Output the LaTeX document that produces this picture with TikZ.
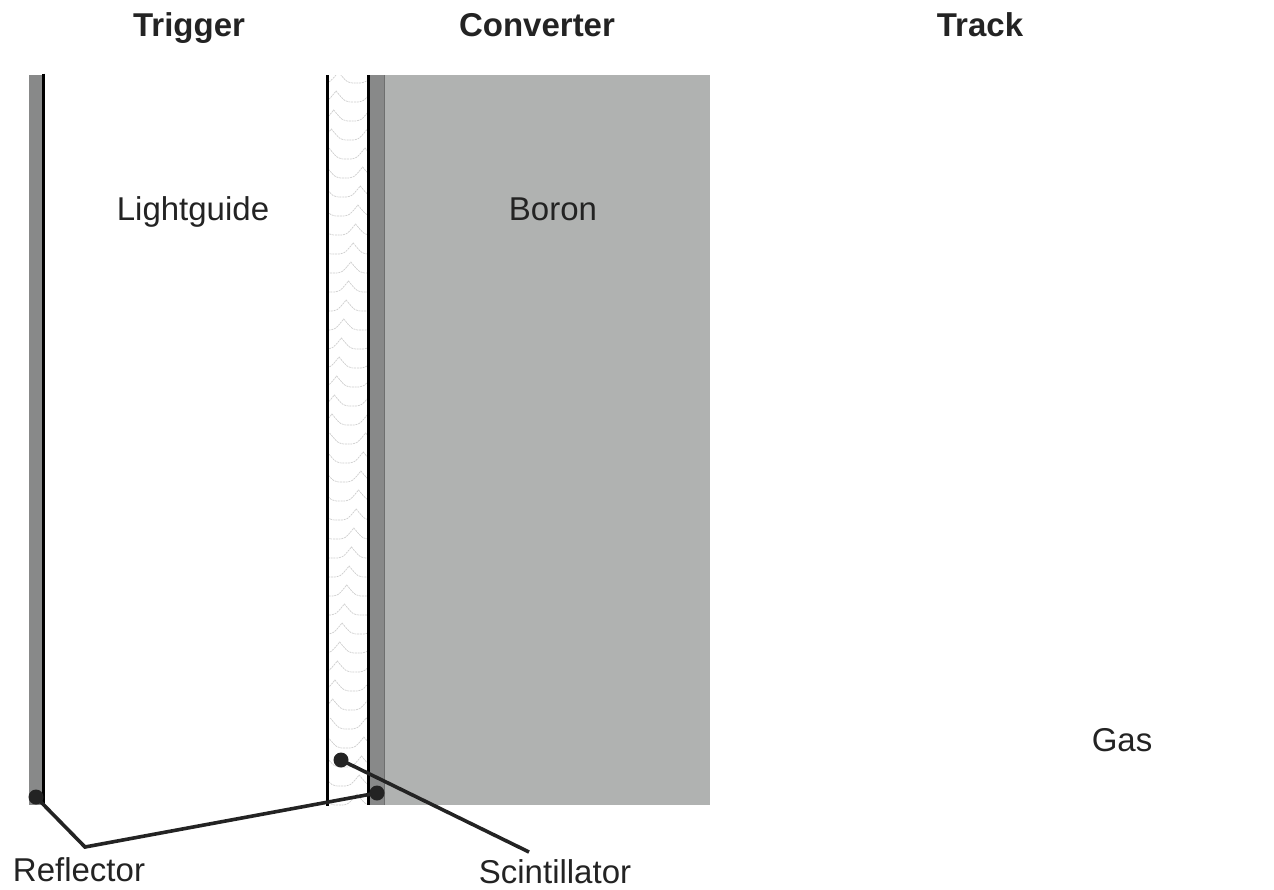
\documentclass[tikz,border=0pt]{standalone}
\usepackage{fontspec}
\setmainfont{Liberation Sans}
\definecolor{boron}{RGB}{176,178,177}
\definecolor{refl}{RGB}{136,137,137}
\definecolor{reflEdge}{RGB}{110,111,111}
\definecolor{ink}{RGB}{35,35,35}
\definecolor{scin}{RGB}{205,205,205}
\tikzset{
  x=1pt,y=-1pt,
  head/.style={font=\bfseries\fontsize{33}{36}\selectfont,text=ink,inner sep=0pt,anchor=base},
  lab/.style={font=\fontsize{33}{36}\selectfont,text=ink,inner sep=0pt,anchor=base},
  wall/.style={black,line width=3.8pt},
  lead/.style={ink,line width=3.6pt,line join=miter},
  dot/.style={circle,fill=ink,minimum size=15pt,inner sep=0pt},
  wave/.style={scin,line width=0.7pt,dash pattern=on 2pt off 0.8pt}
}
\begin{document}
\begin{tikzpicture}
\useasboundingbox (0,0) rectangle (1274,889);
\fill[boron] (385,75) rectangle (710,805);
\fill[refl] (29,75) rectangle (43,805);
\fill[refl] (369,75) rectangle (385,805);
\draw[reflEdge,line width=1.2pt] (384.4,75) -- (384.4,805);
\begin{scope}
\clip (329,75) rectangle (367,805);
\foreach \y in {72,91,...,800} {
  \pgfmathsetmacro{\pk}{331+mod(395-(\y-140)/290*36,36)}
  \pgfmathsetmacro{\pa}{\pk-36}
  \pgfmathsetmacro{\pb}{\pk+36}
  \draw[wave] (\pa,\y) .. controls (\pa+9,\y+11) .. (\pa+18,\y+11)
     .. controls (\pa+27,\y+11) .. (\pk,\y)
     .. controls (\pk+9,\y+11) .. (\pk+18,\y+11)
     .. controls (\pk+27,\y+11) .. (\pb,\y);
}
\end{scope}
\draw[wall] (43.5,73.5) -- (43.5,805);
\draw[wall] (327.5,75) -- (327.5,806);
\draw[wall] (368.5,75) -- (368.5,805);
\node[head] (trigger) at (189,36) {Trigger};
\node[head] (converter) at (537,36) {Converter};
\node[head] (track) at (980,36) {Track};
\node[lab] (lightguide) at (193,220) {Lightguide};
\node[lab] (boronlab) at (553,220) {Boron};
\node[lab] (gas) at (1122,751) {Gas};
\node[lab] (reflector) at (79,881) {Reflector};
\node[lab] (scintillator) at (555,883) {Scintillator};
\node[dot] (d1) at (36,797) {};
\node[dot] (d2) at (377,793) {};
\node[dot] (d3) at (341,760) {};
\coordinate (elbow) at (85,847);
\coordinate (send) at (529,852);
\draw[lead] (d1.center) -- (elbow) -- (d2.center);
\draw[lead] (d3.center) -- (send);
\end{tikzpicture}
\end{document}
